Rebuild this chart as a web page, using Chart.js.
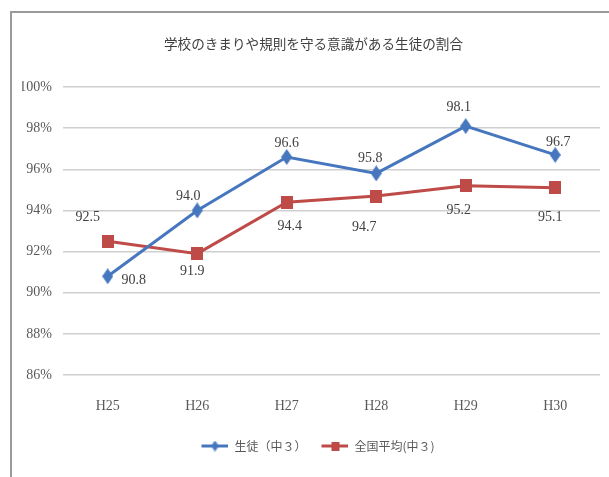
<!DOCTYPE html>
<html><head><meta charset="utf-8">
<script src="https://cdn.jsdelivr.net/npm/chart.js@4"></script>
<style>html,body{margin:0;padding:0;background:#fff}canvas{display:block}</style>
</head><body>
<canvas id="c" width="609" height="477"></canvas>
<script>
const chartTitle = '学校のきまりや規則を守る意識がある生徒の割合';
const categories = ['H25', 'H26', 'H27', 'H28', 'H29', 'H30'];
const seriesNames = ['生徒（中３）', '全国平均(中３)'];
const studentValues = [90.8, 94.0, 96.6, 95.8, 98.1, 96.7];
const nationalValues = [92.5, 91.9, 94.4, 94.7, 95.2, 95.1];
const yTickValues = [86, 88, 90, 92, 94, 96, 98, 100];

const BLUE = '#4677BE';
const RED = '#BE4B48';
const SERIF = "'Liberation Serif', 'Noto Sans CJK JP', serif";
const CJK = "'Noto Sans CJK JP', sans-serif";

function makeDiamond(w, h, color) {
  const c = document.createElement('canvas'); c.width = w; c.height = h;
  const x = c.getContext('2d'); x.fillStyle = color;
  x.beginPath(); x.moveTo(w/2, 0); x.lineTo(w, h/2); x.lineTo(w/2, h); x.lineTo(0, h/2); x.closePath(); x.fill();
  return c;
}
function makeSquare(w, h, color) {
  const c = document.createElement('canvas'); c.width = w; c.height = h;
  const x = c.getContext('2d'); x.fillStyle = color; x.fillRect(0, 0, w, h);
  return c;
}
const ICON_MARGIN = 9, ICON_LINE = 27;
function makeLegendIcon(marker, color) {
  const w = ICON_MARGIN + ICON_LINE, h = Math.max(marker.height, 4);
  const c = document.createElement('canvas'); c.width = w; c.height = h;
  const x = c.getContext('2d');
  x.strokeStyle = color; x.lineWidth = 3;
  x.beginPath(); x.moveTo(ICON_MARGIN, h/2); x.lineTo(w, h/2); x.stroke();
  x.drawImage(marker, ICON_MARGIN + (ICON_LINE - marker.width)/2, (h - marker.height)/2);
  return c;
}
const blueMarker = makeDiamond(11, 16, BLUE);
const redMarker = makeSquare(12, 13, RED);
const legendMarkers = [makeLegendIcon(makeDiamond(8, 11, BLUE), BLUE), makeLegendIcon(makeSquare(8, 9, RED), RED)];

const framePlugin = {
  id: 'frame',
  beforeDraw(chart) {
    const ctx = chart.ctx;
    ctx.save();
    ctx.fillStyle = '#fff'; ctx.fillRect(0, 0, chart.width, chart.height);
    ctx.strokeStyle = '#9a9a9a'; ctx.lineWidth = 2;
    ctx.beginPath(); ctx.moveTo(10, 12); ctx.lineTo(chart.width, 12);
    ctx.moveTo(11, 12); ctx.lineTo(11, chart.height); ctx.stroke();
    ctx.restore();
  }
};

const labelPlugin = {
  id: 'valueLabels',
  afterDatasetsDraw(chart, args, opts) {
    const ctx = chart.ctx;
    ctx.save();
    ctx.font = opts.font; ctx.fillStyle = opts.color;
    ctx.textAlign = 'center'; ctx.textBaseline = 'middle';
    chart.data.datasets.forEach((ds, di) => {
      const meta = chart.getDatasetMeta(di);
      meta.data.forEach((pt, i) => {
        const off = opts.offsets[di][i];
        ctx.fillText(ds.data[i].toFixed(1), pt.x + off[0], pt.y + off[1]);
      });
    });
    ctx.restore();
  }
};

new Chart(document.getElementById('c'), {
  type: 'line',
  data: {
    labels: categories,
    datasets: [
      { label: seriesNames[0], data: studentValues, borderColor: BLUE, backgroundColor: BLUE, borderWidth: 3,
        pointStyle: blueMarker, pointRadius: 6, tension: 0 },
      { label: seriesNames[1], data: nationalValues, borderColor: RED, backgroundColor: RED, borderWidth: 3,
        pointStyle: redMarker, pointRadius: 6, tension: 0 }
    ]
  },
  options: {
    responsive: false, animation: false, devicePixelRatio: 1,
    layout: { padding: { left: 22, right: 4, top: 0, bottom: 15 } },
    plugins: {
      title: { display: true, text: chartTitle, color: '#404040',
        font: { family: CJK, size: 13.6, weight: 'normal', lineHeight: 1.2 }, padding: { top: 36, bottom: 34.7 } },
      legend: { position: 'bottom',
        labels: { usePointStyle: true, pointStyleWidth: ICON_MARGIN + ICON_LINE, padding: 6, color: '#595959',
          font: { family: CJK, size: 12 },
          generateLabels(chart) {
            return chart.data.datasets.map((ds, i) => ({
              text: ds.label, pointStyle: legendMarkers[i], fillStyle: ds.borderColor,
              strokeStyle: ds.borderColor, lineWidth: 0, hidden: false, datasetIndex: i, fontColor: '#595959'
            }));
          } } },
      tooltip: { enabled: false },
      valueLabels: {
        font: "14px " + SERIF, color: '#404040',
        offsets: [
          [[26, 4], [-9, -14], [0, -14], [-6, -15], [-7, -19], [3, -13]],
          [[-20, -24], [-5, 18], [3, 24], [-12, 31], [-7, 25], [-5, 30]]
        ]
      }
    },
    scales: {
      x: { offset: true, grid: { display: false, drawTicks: false }, border: { display: false },
        afterFit(s) { s.height = 59; },
        ticks: { color: '#595959', font: { family: SERIF, size: 14 }, padding: 23 } },
      y: { min: yTickValues[0], max: yTickValues[yTickValues.length - 1],
        afterBuildTicks(s) { s.ticks = yTickValues.map(v => ({ value: v })); },
        afterFit(s) { s.width = 41; },
        grid: { color: '#cfcfcf', lineWidth: 1.5, drawTicks: false },
        border: { display: false },
        ticks: { color: '#595959', font: { family: SERIF, size: 14 }, padding: 11, callback: v => v + '%' } }
    }
  },
  plugins: [framePlugin, labelPlugin]
});
</script>
</body></html>
